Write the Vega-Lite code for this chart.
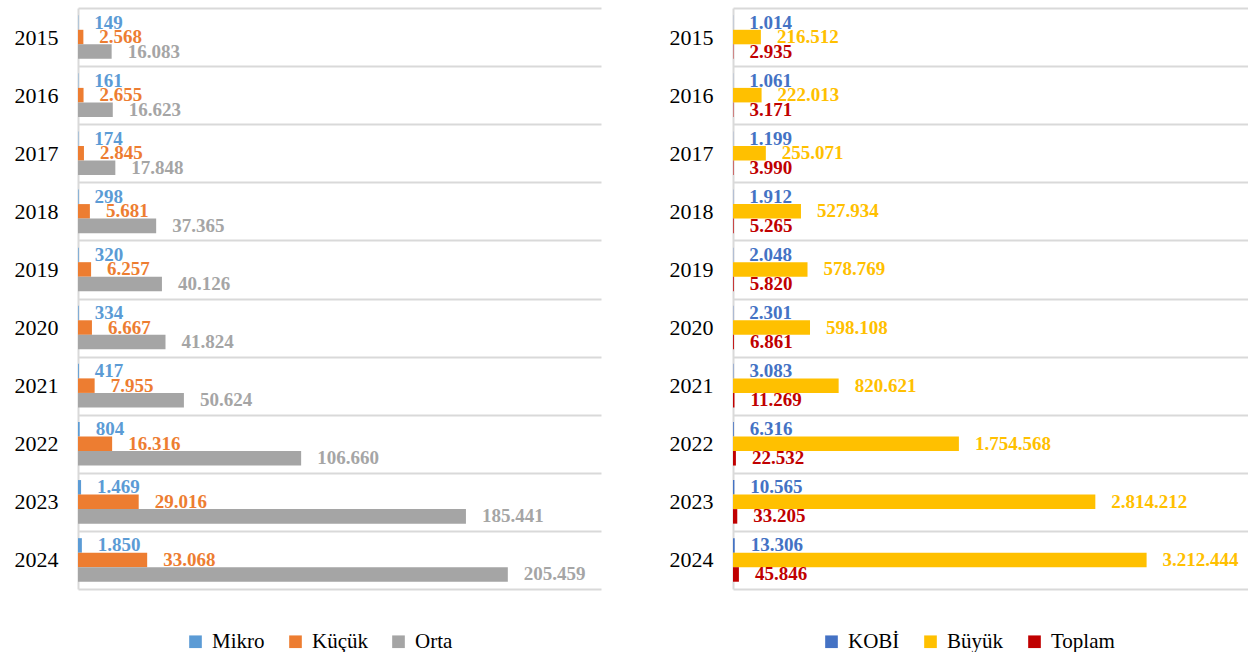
{
  "$schema": "https://vega.github.io/schema/vega-lite/v6.json",
  "padding": {"left": 14, "top": -3, "right": 0, "bottom": 0},
  "background": "white",
  "config": {
    "locale": {"number": {"decimal": ",", "thousands": ".", "grouping": [3], "currency": ["", ""]}},
    "font": "Liberation Serif",
    "style": {"guide-label": {"font": "Liberation Serif"}},
    "view": {"stroke": null},
    "axisY": {
      "title": null, "ticks": false, "tickBand": "extent", "grid": true,
      "gridColor": "#D9D9D9", "gridWidth": 2, "domainColor": "#D9D9D9", "domainWidth": 2,
      "labelFont": "Liberation Serif", "labelFontSize": 22, "labelColor": "#000000", "labelPadding": 20
    },
    "axisX": {"title": null, "labels": false, "ticks": false, "domain": false, "grid": false},
    "legend": {
      "direction": "horizontal", "title": null, "symbolType": "square",
      "symbolSize": 160, "symbolStrokeWidth": 0, "labelFont": "Liberation Serif", "labelFontSize": 21,
      "labelColor": "#000000", "columnPadding": 20, "labelOffset": 6
    }
  },
  "datasets": {
    "sol": [
      {"yil": "2015", "seri": "Mikro", "deger": 149}, {"yil": "2015", "seri": "Küçük", "deger": 2568}, {"yil": "2015", "seri": "Orta", "deger": 16083},
      {"yil": "2016", "seri": "Mikro", "deger": 161}, {"yil": "2016", "seri": "Küçük", "deger": 2655}, {"yil": "2016", "seri": "Orta", "deger": 16623},
      {"yil": "2017", "seri": "Mikro", "deger": 174}, {"yil": "2017", "seri": "Küçük", "deger": 2845}, {"yil": "2017", "seri": "Orta", "deger": 17848},
      {"yil": "2018", "seri": "Mikro", "deger": 298}, {"yil": "2018", "seri": "Küçük", "deger": 5681}, {"yil": "2018", "seri": "Orta", "deger": 37365},
      {"yil": "2019", "seri": "Mikro", "deger": 320}, {"yil": "2019", "seri": "Küçük", "deger": 6257}, {"yil": "2019", "seri": "Orta", "deger": 40126},
      {"yil": "2020", "seri": "Mikro", "deger": 334}, {"yil": "2020", "seri": "Küçük", "deger": 6667}, {"yil": "2020", "seri": "Orta", "deger": 41824},
      {"yil": "2021", "seri": "Mikro", "deger": 417}, {"yil": "2021", "seri": "Küçük", "deger": 7955}, {"yil": "2021", "seri": "Orta", "deger": 50624},
      {"yil": "2022", "seri": "Mikro", "deger": 804}, {"yil": "2022", "seri": "Küçük", "deger": 16316}, {"yil": "2022", "seri": "Orta", "deger": 106660},
      {"yil": "2023", "seri": "Mikro", "deger": 1469}, {"yil": "2023", "seri": "Küçük", "deger": 29016}, {"yil": "2023", "seri": "Orta", "deger": 185441},
      {"yil": "2024", "seri": "Mikro", "deger": 1850}, {"yil": "2024", "seri": "Küçük", "deger": 33068}, {"yil": "2024", "seri": "Orta", "deger": 205459}
    ],
    "sag": [
      {"yil": "2015", "seri": "KOBİ", "deger": 1014}, {"yil": "2015", "seri": "Büyük", "deger": 216512}, {"yil": "2015", "seri": "Toplam", "deger": 2935},
      {"yil": "2016", "seri": "KOBİ", "deger": 1061}, {"yil": "2016", "seri": "Büyük", "deger": 222013}, {"yil": "2016", "seri": "Toplam", "deger": 3171},
      {"yil": "2017", "seri": "KOBİ", "deger": 1199}, {"yil": "2017", "seri": "Büyük", "deger": 255071}, {"yil": "2017", "seri": "Toplam", "deger": 3990},
      {"yil": "2018", "seri": "KOBİ", "deger": 1912}, {"yil": "2018", "seri": "Büyük", "deger": 527934}, {"yil": "2018", "seri": "Toplam", "deger": 5265},
      {"yil": "2019", "seri": "KOBİ", "deger": 2048}, {"yil": "2019", "seri": "Büyük", "deger": 578769}, {"yil": "2019", "seri": "Toplam", "deger": 5820},
      {"yil": "2020", "seri": "KOBİ", "deger": 2301}, {"yil": "2020", "seri": "Büyük", "deger": 598108}, {"yil": "2020", "seri": "Toplam", "deger": 6861},
      {"yil": "2021", "seri": "KOBİ", "deger": 3083}, {"yil": "2021", "seri": "Büyük", "deger": 820621}, {"yil": "2021", "seri": "Toplam", "deger": 11269},
      {"yil": "2022", "seri": "KOBİ", "deger": 6316}, {"yil": "2022", "seri": "Büyük", "deger": 1754568}, {"yil": "2022", "seri": "Toplam", "deger": 22532},
      {"yil": "2023", "seri": "KOBİ", "deger": 10565}, {"yil": "2023", "seri": "Büyük", "deger": 2814212}, {"yil": "2023", "seri": "Toplam", "deger": 33205},
      {"yil": "2024", "seri": "KOBİ", "deger": 13306}, {"yil": "2024", "seri": "Büyük", "deger": 3212444}, {"yil": "2024", "seri": "Toplam", "deger": 45846}
    ]
  },
  "resolve": {"scale": {"color": "independent", "x": "independent", "y": "independent", "yOffset": "independent"}, "legend": {"color": "independent"}},
  "spacing": 68,
  "hconcat": [
    {
      "width": 523, "height": 581,
      "data": {"name": "sol"},
      "encoding": {
        "y": {"field": "yil", "type": "nominal", "scale": {"paddingInner": 0, "paddingOuter": 0}},
        "yOffset": {"field": "seri", "type": "nominal", "sort": ["Mikro", "Küçük", "Orta"], "scale": {"paddingInner": 0, "paddingOuter": 0.5}},
        "x": {"field": "deger", "type": "quantitative", "scale": {"domain": [0, 250000], "nice": false}},
        "color": {"field": "seri", "type": "nominal", "sort": ["Mikro", "Küçük", "Orta"],
          "scale": {"domain": ["Mikro", "Küçük", "Orta"], "range": ["#5B9BD5", "#ED7D31", "#A5A5A5"]},
          "legend": {"orient": "none", "legendX": 107, "legendY": 623, "direction": "horizontal", "labelFont": "Liberation Serif", "labelFontSize": 21}}
      },
      "layer": [
        {"mark": {"type": "bar"}},
        {"mark": {"type": "text", "align": "left", "baseline": "middle", "dx": 16, "fontSize": 19, "fontWeight": "bold"},
         "encoding": {"text": {"field": "deger", "type": "quantitative", "format": ",.0f"}}}
      ]
    },
    {
      "width": 515, "height": 581,
      "data": {"name": "sag"},
      "encoding": {
        "y": {"field": "yil", "type": "nominal", "scale": {"paddingInner": 0, "paddingOuter": 0}},
        "yOffset": {"field": "seri", "type": "nominal", "sort": ["KOBİ", "Büyük", "Toplam"], "scale": {"paddingInner": 0, "paddingOuter": 0.5}},
        "x": {"field": "deger", "type": "quantitative", "scale": {"domain": [0, 4000000], "nice": false}},
        "color": {"field": "seri", "type": "nominal", "sort": ["KOBİ", "Büyük", "Toplam"],
          "scale": {"domain": ["KOBİ", "Büyük", "Toplam"], "range": ["#4472C4", "#FFC000", "#C00000"]},
          "legend": {"orient": "none", "legendX": 88, "legendY": 623, "direction": "horizontal", "labelFont": "Liberation Serif", "labelFontSize": 21}}
      },
      "layer": [
        {"mark": {"type": "bar"}},
        {"mark": {"type": "text", "align": "left", "baseline": "middle", "dx": 16, "fontSize": 19, "fontWeight": "bold"},
         "encoding": {"text": {"field": "deger", "type": "quantitative", "format": ",.0f"}}}
      ]
    }
  ]
}
